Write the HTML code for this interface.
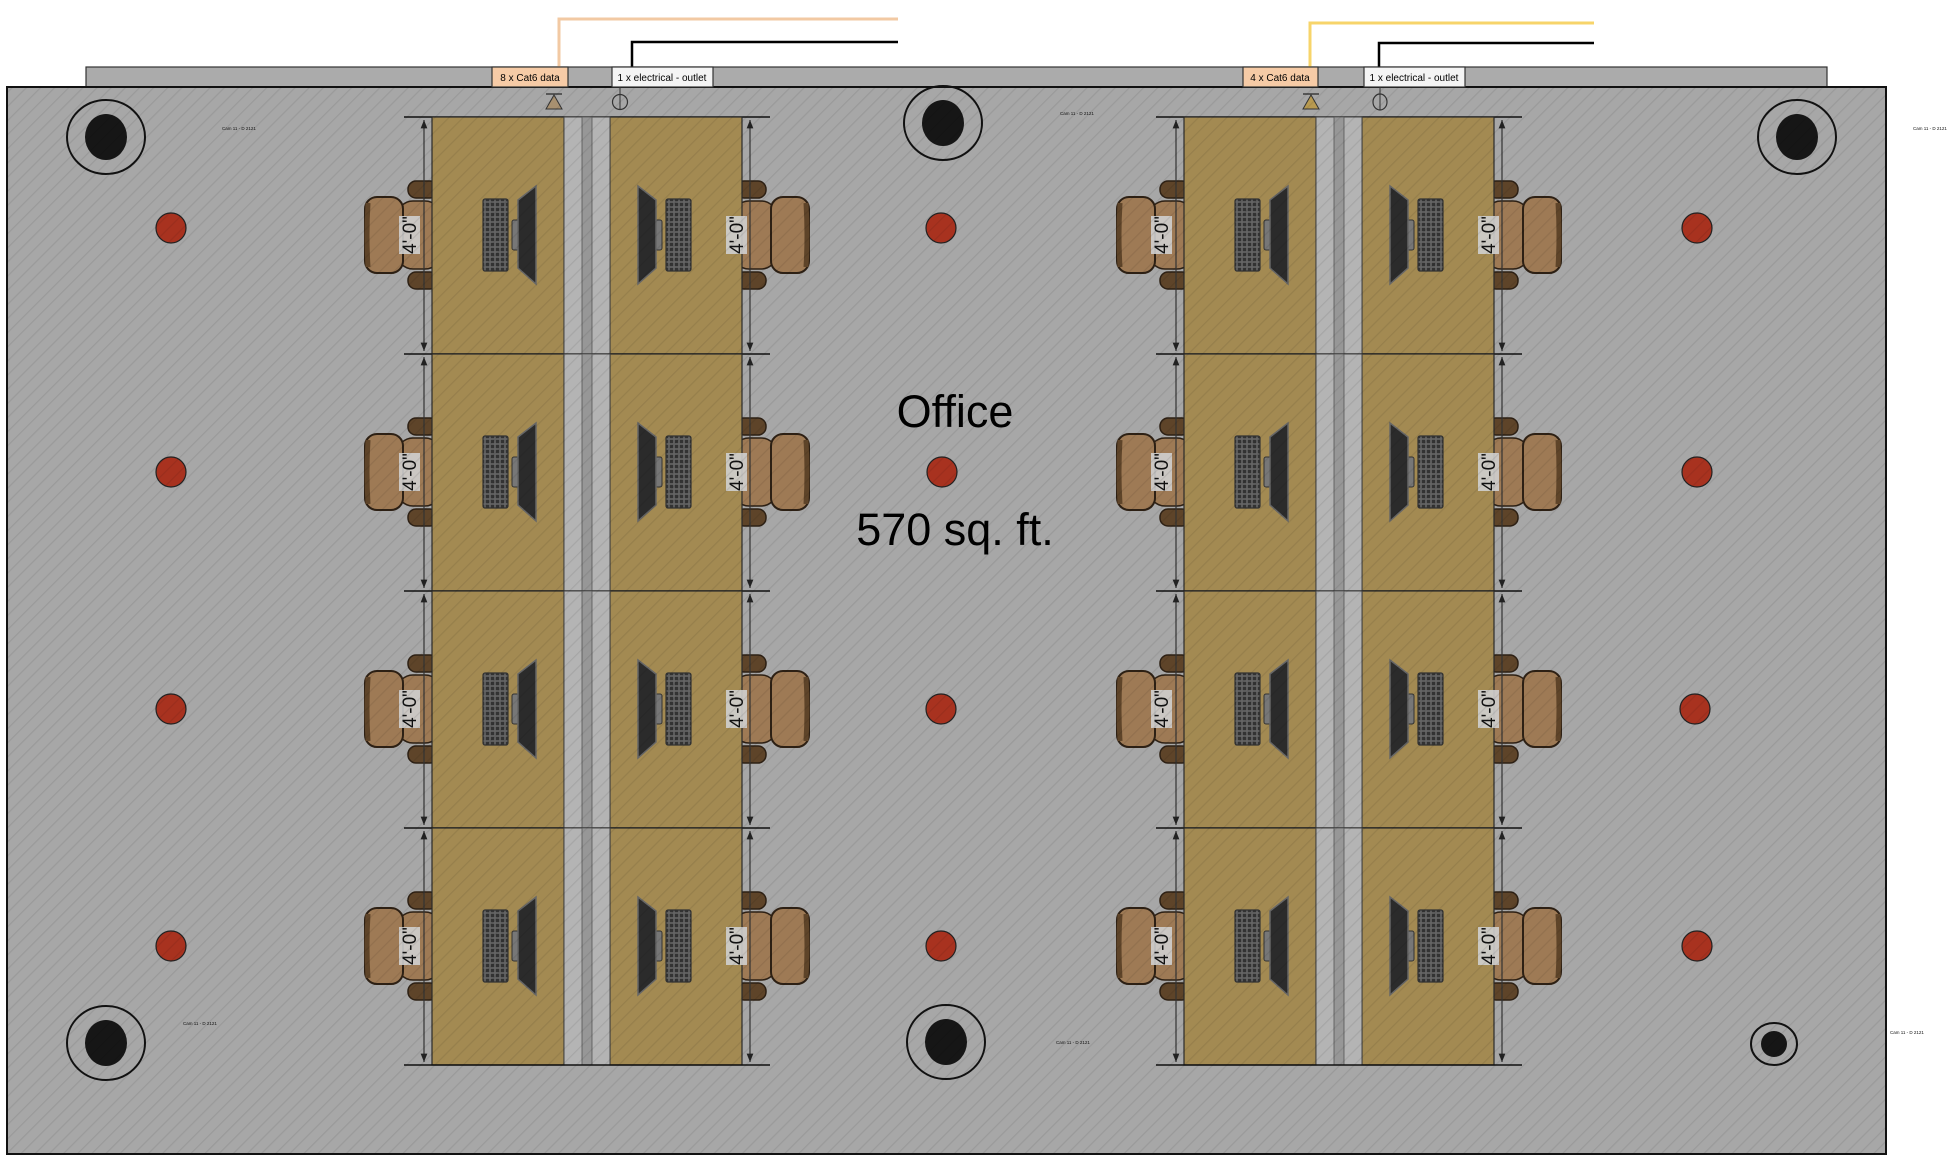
<!DOCTYPE html>
<html><head><meta charset="utf-8"><style>
html,body{margin:0;padding:0;background:#fff;}
svg{display:block;}
</style></head><body>
<svg width="1955" height="1162" viewBox="0 0 1955 1162" xmlns="http://www.w3.org/2000/svg" font-family="Liberation Sans, sans-serif">
<defs>
<pattern id="hatch" width="10" height="10" patternUnits="userSpaceOnUse" patternTransform="rotate(45)">
<rect width="10" height="10" fill="none"/>
<line x1="0" y1="0" x2="0" y2="10" stroke="#000" stroke-opacity="0.08" stroke-width="2.5"/>
</pattern>
<pattern id="keys" width="5" height="5" patternUnits="userSpaceOnUse">
<rect width="5" height="5" fill="#666"/>
<rect x="0.8" y="0.8" width="3.4" height="3.4" fill="#333"/>
</pattern>
<marker id="arr" viewBox="0 0 10 10" refX="10" refY="5" markerWidth="7" markerHeight="9" orient="auto-start-reverse">
<path d="M0,1 L10,5 L0,9 z" fill="#222"/>
</marker>
<g id="seat">
<rect x="408" y="64" width="30" height="17" rx="8" fill="#5e4429" stroke="#2d2014" stroke-width="1.5"/>
<rect x="408" y="155" width="30" height="17" rx="8" fill="#5e4429" stroke="#2d2014" stroke-width="1.5"/>
<rect x="397" y="84" width="44" height="68" rx="16" fill="#9e7a55" stroke="#2d2014" stroke-width="1.5"/>
<rect x="365" y="80" width="38" height="76" rx="12" fill="#9e7a55" stroke="#2d2014" stroke-width="2"/>
<path d="M368,86 Q366,118 368,150" stroke="#5e4429" stroke-width="5" fill="none"/>
</g>
<g id="comp">
<rect x="483" y="82" width="25" height="72" rx="2" fill="url(#keys)" stroke="#333" stroke-width="1.2"/>
<rect x="512" y="103" width="7" height="30" rx="2" fill="#777" stroke="#333"/>
<polygon points="518,83 536,69 536,167 518,151" fill="#2b2b2b" stroke="#666" stroke-width="1.5"/>
</g>
<g id="pair">
<line x1="404" y1="0" x2="770" y2="0" stroke="#111" stroke-width="1.5"/>
<use href="#seat"/>
<use href="#seat" transform="translate(1174,0) scale(-1,1)"/>
<rect x="432" y="0" width="132" height="237" fill="#a38a52" stroke="#2a2a2a" stroke-width="1.2"/>
<rect x="610" y="0" width="132" height="237" fill="#a38a52" stroke="#2a2a2a" stroke-width="1.2"/>
<rect x="564" y="0" width="46" height="237" fill="#b4b4b4" stroke="#444" stroke-width="1"/>
<rect x="582" y="0" width="10" height="237" fill="#979797" stroke="#555" stroke-width="0.8"/>
<use href="#comp"/>
<use href="#comp" transform="translate(1174,0) scale(-1,1)"/>
<line x1="424" y1="3" x2="424" y2="234" stroke="#333" stroke-width="1.2" marker-start="url(#arr)" marker-end="url(#arr)"/>
<line x1="750" y1="3" x2="750" y2="234" stroke="#333" stroke-width="1.2" marker-start="url(#arr)" marker-end="url(#arr)"/>
<rect x="399" y="99" width="21" height="38" fill="#cfcfcf" opacity="0.9"/>
<rect x="726" y="99" width="21" height="38" fill="#cfcfcf" opacity="0.9"/>
</g>
<g id="group">
<use href="#pair" y="117"/>
<use href="#pair" y="354"/>
<use href="#pair" y="591"/>
<use href="#pair" y="828"/>
<line x1="404" y1="1065" x2="770" y2="1065" stroke="#111" stroke-width="1.5"/>
</g>
</defs>

<rect x="86" y="67" width="1741" height="20" fill="#ababab" stroke="#333" stroke-width="1.2"/>
<rect x="7" y="87" width="1879" height="1067" fill="#a7a7a7" stroke="#111" stroke-width="2"/>

<g stroke="#111" stroke-width="2" fill="none">
<ellipse cx="106" cy="137" rx="39" ry="37"/>
<ellipse cx="943" cy="123" rx="39" ry="37"/>
<ellipse cx="1797" cy="137" rx="39" ry="37"/>
<ellipse cx="106" cy="1043" rx="39" ry="37"/>
<ellipse cx="946" cy="1042" rx="39" ry="37"/>
<ellipse cx="1774" cy="1044" rx="23" ry="21"/>
</g>
<g fill="#161616">
<ellipse cx="106" cy="137" rx="21" ry="23"/>
<ellipse cx="943" cy="123" rx="21" ry="23"/>
<ellipse cx="1797" cy="137" rx="21" ry="23"/>
<ellipse cx="106" cy="1043" rx="21" ry="23"/>
<ellipse cx="946" cy="1042" rx="21" ry="23"/>
<ellipse cx="1774" cy="1044" rx="13" ry="13"/>
</g>

<g fill="#a8321f" stroke="#222" stroke-width="1.2">
<ellipse cx="171" cy="228" rx="15" ry="15"/><ellipse cx="941" cy="228" rx="15" ry="15"/><ellipse cx="1697" cy="228" rx="15" ry="15"/>
<ellipse cx="171" cy="472" rx="15" ry="15"/><ellipse cx="942" cy="472" rx="15" ry="15"/><ellipse cx="1697" cy="472" rx="15" ry="15"/>
<ellipse cx="171" cy="709" rx="15" ry="15"/><ellipse cx="941" cy="709" rx="15" ry="15"/><ellipse cx="1695" cy="709" rx="15" ry="15"/>
<ellipse cx="171" cy="946" rx="15" ry="15"/><ellipse cx="941" cy="946" rx="15" ry="15"/><ellipse cx="1697" cy="946" rx="15" ry="15"/>
</g>

<use href="#group"/>
<use href="#group" x="752"/>

<g font-size="19" fill="#111" text-anchor="middle">
<text transform="translate(416,235) rotate(-90)">4'-0"</text>
<text transform="translate(743,235) rotate(-90)">4'-0"</text>
<text transform="translate(416,472) rotate(-90)">4'-0"</text>
<text transform="translate(743,472) rotate(-90)">4'-0"</text>
<text transform="translate(416,709) rotate(-90)">4'-0"</text>
<text transform="translate(743,709) rotate(-90)">4'-0"</text>
<text transform="translate(416,946) rotate(-90)">4'-0"</text>
<text transform="translate(743,946) rotate(-90)">4'-0"</text>
<text transform="translate(1168,235) rotate(-90)">4'-0"</text>
<text transform="translate(1495,235) rotate(-90)">4'-0"</text>
<text transform="translate(1168,472) rotate(-90)">4'-0"</text>
<text transform="translate(1495,472) rotate(-90)">4'-0"</text>
<text transform="translate(1168,709) rotate(-90)">4'-0"</text>
<text transform="translate(1495,709) rotate(-90)">4'-0"</text>
<text transform="translate(1168,946) rotate(-90)">4'-0"</text>
<text transform="translate(1495,946) rotate(-90)">4'-0"</text>
</g>

<line x1="546" y1="94" x2="562" y2="94" stroke="#222" stroke-width="1.2"/>
<polygon points="554,95 546,109 562,109" fill="#a89070" stroke="#333"/>
<line x1="620" y1="87" x2="620" y2="110" stroke="#333"/>
<circle cx="620" cy="102" r="7.5" fill="none" stroke="#333" stroke-width="1.2"/>
<line x1="1303" y1="94" x2="1319" y2="94" stroke="#222" stroke-width="1.2"/>
<polygon points="1311,95 1303,109 1319,109" fill="#b89a50" stroke="#333"/>
<line x1="1380" y1="87" x2="1380" y2="110" stroke="#333"/>
<ellipse cx="1380" cy="102" rx="7" ry="8" fill="none" stroke="#333" stroke-width="1.2"/>

<rect x="7" y="87" width="1879" height="1067" fill="url(#hatch)"/>

<text x="955" y="427" font-size="45" text-anchor="middle" fill="#000">Office</text>
<text x="955" y="545" font-size="45" text-anchor="middle" fill="#000">570 sq. ft.</text>

<g font-size="4.5" fill="#111">
<text x="222" y="130">Cam 11 - D 2121</text>
<text x="1060" y="115">Cam 11 - D 2121</text>
<text x="1913" y="130">Cam 11 - D 2121</text>
<text x="183" y="1025">Cam 11 - D 2121</text>
<text x="1056" y="1044">Cam 11 - D 2121</text>
<text x="1890" y="1034">Cam 11 - D 2121</text>
</g>

<polyline points="559,67 559,19 898,19" fill="none" stroke="#f2c9a3" stroke-width="3"/>
<polyline points="632,67 632,42 898,42" fill="none" stroke="#000" stroke-width="2.5"/>
<polyline points="1310,67 1310,23 1594,23" fill="none" stroke="#f7d46a" stroke-width="3"/>
<polyline points="1379,67 1379,43 1594,43" fill="none" stroke="#000" stroke-width="2.5"/>

<rect x="492" y="67" width="76" height="20" fill="#f6cba6" stroke="#333" stroke-width="1.2"/>
<text x="530" y="81" font-size="10" text-anchor="middle">8 x Cat6 data</text>
<rect x="612" y="67" width="101" height="20" fill="#f4f4f4" stroke="#333" stroke-width="1.2"/>
<text x="662" y="81" font-size="10" text-anchor="middle">1 x electrical - outlet</text>
<rect x="1243" y="67" width="75" height="20" fill="#f6cba6" stroke="#333" stroke-width="1.2"/>
<text x="1280" y="81" font-size="10" text-anchor="middle">4 x Cat6 data</text>
<rect x="1364" y="67" width="101" height="20" fill="#f4f4f4" stroke="#333" stroke-width="1.2"/>
<text x="1414" y="81" font-size="10" text-anchor="middle">1 x electrical - outlet</text>
</svg>
</body></html>
